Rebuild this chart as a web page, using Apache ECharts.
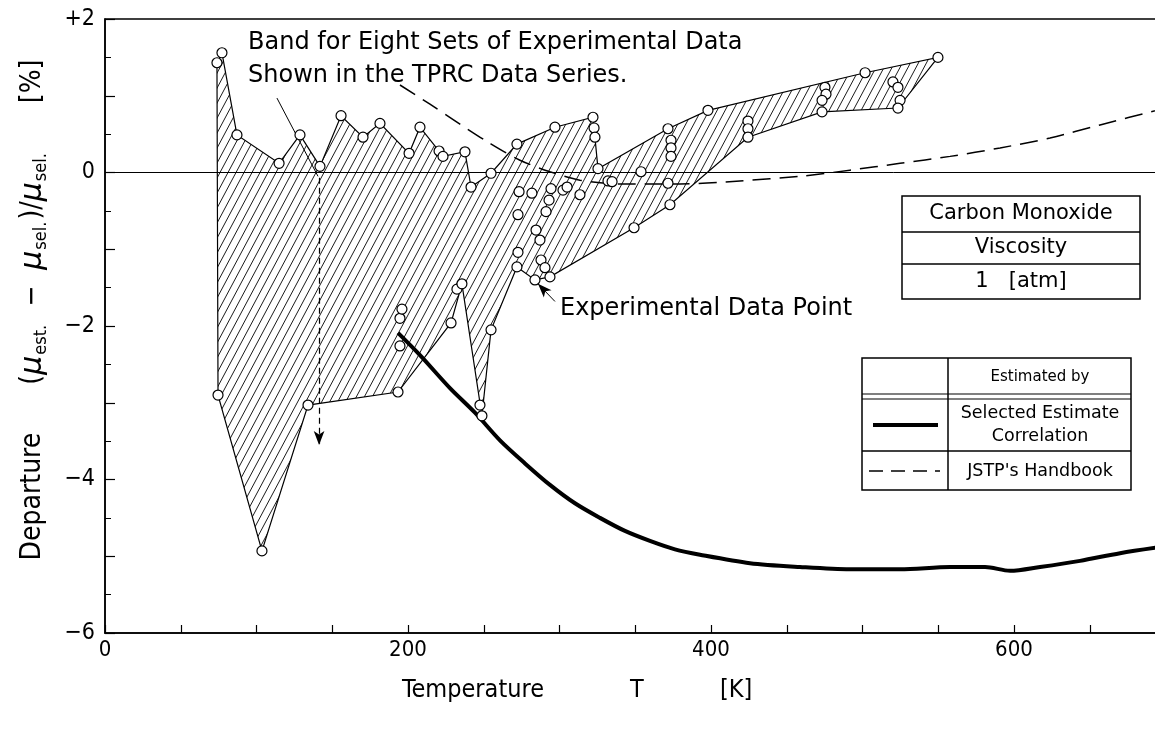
<!DOCTYPE html>
<html><head><meta charset="utf-8">
<script src="https://cdn.jsdelivr.net/npm/echarts@6/dist/echarts.min.js"></script>
<style>html,body{margin:0;padding:0;background:#fff}#c{width:1155px;height:733px}</style>
</head><body><div id="c"></div><script>
// ---- data ----
const xTickValues = [0, 200, 400, 600];
const xTickLabels = ['0', '200', '400', '600'];
const yTickValues = [2, 0, -2, -4, -6];
const yTickLabels = ['+2', '0', '\u22122', '\u22124', '\u22126'];

// band outline (clockwise)
const bandT = [74.6, 73.9, 77.2, 87.1, 114.9, 128.7, 141.9, 155.8, 170.3, 181.5, 200.7, 207.9, 220.5, 223.1, 237.6, 241.6, 254.8, 271.9, 297.0, 322.1, 325.4, 371.6, 398.0, 501.7, 549.8,
               523.4, 473.3, 424.4, 372.9, 349.2, 293.7, 283.8, 271.9, 254.8, 248.8, 235.6, 228.4, 193.4, 134.0, 103.6];
const bandY = [-2.90, 1.43, 1.56, 0.49, 0.12, 0.49, 0.08, 0.74, 0.46, 0.64, 0.25, 0.59, 0.28, 0.21, 0.27, -0.19, -0.01, 0.37, 0.59, 0.72, 0.05, 0.57, 0.81, 1.30, 1.50,
               0.84, 0.79, 0.46, -0.42, -0.72, -1.36, -1.40, -1.23, -2.05, -3.17, -1.45, -1.96, -2.86, -3.03, -4.93];

// experimental data points
const pointT = [77.2, 73.9, 87.1, 114.9, 128.7, 141.9, 155.8, 170.3, 181.5, 200.7, 207.9, 220.5, 223.1, 237.6, 241.6, 254.8, 271.9, 297.0, 322.1, 322.8, 323.4, 325.4, 332.0, 334.7, 353.8,
                371.6, 371.6, 373.6, 373.6, 373.6, 398.0, 424.4, 424.4, 424.4, 475.2, 475.9, 473.3, 473.3, 501.7, 520.1, 523.4, 524.8, 523.4, 549.8,
                74.6, 103.6, 134.0, 193.4, 194.7, 194.7, 196.0, 228.4, 232.3, 235.6, 247.5, 248.8, 254.8, 271.9, 283.8, 293.7, 349.2, 372.9,
                273.3, 281.8, 294.4, 302.3, 305.0, 313.5, 272.6, 272.6, 284.5, 287.1, 287.8, 290.4, 291.1, 293.1];
const pointY = [1.56, 1.43, 0.49, 0.12, 0.49, 0.08, 0.74, 0.46, 0.64, 0.25, 0.59, 0.28, 0.21, 0.27, -0.19, -0.01, 0.37, 0.59, 0.72, 0.58, 0.46, 0.05, -0.11, -0.12, 0.01,
                -0.14, 0.57, 0.42, 0.32, 0.21, 0.81, 0.67, 0.57, 0.46, 1.11, 1.02, 0.94, 0.79, 1.30, 1.18, 1.11, 0.94, 0.84, 1.50,
                -2.90, -4.93, -3.03, -2.86, -2.26, -1.90, -1.78, -1.96, -1.52, -1.45, -3.03, -3.17, -2.05, -1.23, -1.40, -1.36, -0.72, -0.42,
                -0.25, -0.27, -0.21, -0.23, -0.19, -0.29, -0.55, -1.04, -0.75, -0.88, -1.14, -1.24, -0.51, -0.36];

// selected estimate correlation
const selT = [193.4, 207.9, 227.7, 244.2, 260.7, 277.2, 293.7, 310.2, 326.7, 343.2, 359.7, 376.2, 392.7, 425.7, 458.7, 491.7, 524.8, 557.8, 580.9, 597.4, 617.2, 643.6, 670.0, 700.0];
const selY = [-2.09, -2.38, -2.81, -3.13, -3.49, -3.79, -4.07, -4.31, -4.50, -4.67, -4.80, -4.91, -4.98, -5.09, -5.14, -5.17, -5.17, -5.14, -5.14, -5.19, -5.14, -5.06, -4.96, -4.87];

// JSTP's handbook
const jstpT = [194.7, 214.5, 234.3, 254.1, 273.9, 293.7, 313.5, 339.9, 379.5, 419.1, 458.7, 491.7, 524.8, 557.8, 590.8, 623.8, 656.8, 700.0];
const jstpY = [1.14, 0.89, 0.63, 0.38, 0.16, 0.01, -0.10, -0.15, -0.15, -0.11, -0.05, 0.03, 0.12, 0.21, 0.32, 0.45, 0.62, 0.84];

// annotation leader lines [T1, y1, T2, y2]
const leaderBand = [113.5, 0.97, 140.6, -0.05];
const arrowBand = [141.3, -0.07, 141.3, -3.55];
const arrowPoint = [297.0, -1.68, 285.8, -1.45];

// ---- styling ----
const COND = "'DejaVu Sans Condensed', 'DejaVu Sans', sans-serif";
const SANS = "'DejaVu Sans', sans-serif";

const hc = document.createElement('canvas');
hc.width = 8; hc.height = 15;
(function () {
  const ctx = hc.getContext('2d');
  ctx.strokeStyle = '#000'; ctx.lineWidth = 0.9;
  for (const off of [-8, 0, 8]) {
    ctx.beginPath(); ctx.moveTo(-8 + off, 30); ctx.lineTo(16 + off, -15); ctx.stroke();
  }
})();

function fmt(values, labels) {
  return v => { const i = values.findIndex(t => Math.abs(t - v) < 1e-9); return i >= 0 ? labels[i] : ''; };
}
const zip = (a, b) => a.map((t, i) => [t, b[i]]);

const chart = echarts.init(document.getElementById('c'));
const black = '#000';
chart.setOption({
  animation: false,
  backgroundColor: '#fff',
  grid: { left: 105, top: 19, right: -10.5, bottom: 100, show: true, borderColor: black, borderWidth: 1.5, backgroundColor: 'transparent', outerBoundsMode: 'none', containLabel: false },
  xAxis: {
    type: 'value', min: 0, max: 700, interval: 50,
    axisLine: { show: true, onZero: false, lineStyle: { color: black, width: 1.5 } },
    axisTick: { show: true, inside: true, length: 8, lineStyle: { color: black, width: 1.2 } },
    axisLabel: { formatter: fmt(xTickValues, xTickLabels), color: black, fontSize: 22, fontFamily: COND, margin: 6, showMaxLabel: false },
    splitLine: { show: false }
  },
  yAxis: {
    type: 'value', min: -6, max: 2, interval: 1,
    axisLine: { show: true, onZero: false, lineStyle: { color: black, width: 1.5 } },
    axisTick: { show: true, inside: true, length: 10, lineStyle: { color: black, width: 1.2 } },
    minorTick: { show: true, splitNumber: 2, length: 6, lineStyle: { color: black, width: 1 } },
    axisLabel: { formatter: fmt(yTickValues, yTickLabels), color: black, fontSize: 23, fontFamily: COND, margin: 10 },
    splitLine: { show: false }, minorSplitLine: { show: false },
    name: '{a|Departure      (}{m|\u03bc}{s|est.}{a|  \u2212  }{m|\u03bc}{s|sel.}{a|)/}{m|\u03bc}{s|sel.}{a|      [%]}',
    nameLocation: 'middle', nameRotate: 90, nameGap: 55,
    nameTextStyle: {
      padding: [0, 0, 0, 32],
      rich: {
        a: { fontSize: 28, fontFamily: COND, color: black, lineHeight: 34 },
        m: { fontSize: 30, fontFamily: SANS, fontStyle: 'italic', color: black, lineHeight: 34 },
        s: { fontSize: 18, fontFamily: COND, color: black, lineHeight: 16, verticalAlign: 'bottom', padding: [0, 2, 0, 1] }
      }
    }
  },
  series: [
    {
      type: 'custom', coordinateSystem: 'cartesian2d', silent: true, z: 1,
      data: [[bandT[0], bandY[0]]],
      renderItem: (params, api) => ({
        type: 'polygon',
        shape: { points: bandT.map((t, i) => api.coord([t, bandY[i]])) },
        style: { fill: { image: hc, repeat: 'repeat' }, stroke: black, lineWidth: 1.2 }
      })
    },
    {
      type: 'line', data: zip(jstpT, jstpY), showSymbol: false, symbol: 'none', smooth: 0.3, z: 3,
      lineStyle: { color: black, width: 1.5, type: [18, 9] }
    },
    {
      type: 'line', data: zip(selT, selY), showSymbol: false, symbol: 'none', smooth: 0.3, z: 3,
      lineStyle: { color: black, width: 4 }
    },
    {
      type: 'scatter', data: zip(pointT, pointY), symbol: 'circle', symbolSize: 10, z: 5,
      itemStyle: { color: '#fff', borderColor: black, borderWidth: 1.2, opacity: 1 },
      markLine: {
        silent: true, symbol: ['none', 'none'], symbolSize: [8, 14], animation: false,
        label: { show: false }, lineStyle: { color: black, width: 1, type: 'solid' },
        data: [
          { yAxis: 0 },
          [{ coord: [leaderBand[0], leaderBand[1]] }, { coord: [leaderBand[2], leaderBand[3]] }],
          [{ coord: [arrowBand[0], arrowBand[1]], lineStyle: { type: [6, 4], width: 1.2 } }, { coord: [arrowBand[2], arrowBand[3]], symbol: 'arrow' }],
          [{ coord: [arrowPoint[0], arrowPoint[1]] }, { coord: [arrowPoint[2], arrowPoint[3]], symbol: 'arrow' }]
        ]
      }
    }
  ],
  graphic: [
    // annotations
    { type: 'text', x: 248, y: 43, z: 10, style: { text: 'Band for Eight Sets of Experimental Data', fontSize: 24, fontFamily: SANS, fill: black, align: 'left', verticalAlign: 'middle' } },
    { type: 'text', x: 248, y: 76, z: 10, style: { text: 'Shown in the TPRC Data Series.', fontSize: 24, fontFamily: SANS, fill: black, align: 'left', verticalAlign: 'middle' } },
    { type: 'text', x: 560, y: 309, z: 10, style: { text: 'Experimental Data Point', fontSize: 24, fontFamily: SANS, fill: black, align: 'left', verticalAlign: 'middle' } },
    // x axis title
    { type: 'text', x: 402, y: 690, style: { text: 'Temperature', fontSize: 25, fontFamily: COND, fill: black, align: 'left', verticalAlign: 'middle' } },
    { type: 'text', x: 630, y: 690, style: { text: 'T', fontSize: 25, fontFamily: COND, fill: black, align: 'left', verticalAlign: 'middle' } },
    { type: 'text', x: 720, y: 690, style: { text: '[K]', fontSize: 25, fontFamily: COND, fill: black, align: 'left', verticalAlign: 'middle' } },
    // box 1
    { type: 'rect', z: 20, shape: { x: 902, y: 196, width: 238, height: 103 }, style: { fill: '#fff', stroke: black, lineWidth: 1.5 } },
    { type: 'line', z: 21, shape: { x1: 902, y1: 232, x2: 1140, y2: 232 }, style: { stroke: black, lineWidth: 1.5 } },
    { type: 'line', z: 21, shape: { x1: 902, y1: 264, x2: 1140, y2: 264 }, style: { stroke: black, lineWidth: 1.5 } },
    { type: 'text', z: 22, x: 1021, y: 214, style: { text: 'Carbon Monoxide', fontSize: 21, fontFamily: SANS, fill: black, align: 'center', verticalAlign: 'middle' } },
    { type: 'text', z: 22, x: 1021, y: 248, style: { text: 'Viscosity', fontSize: 21, fontFamily: SANS, fill: black, align: 'center', verticalAlign: 'middle' } },
    { type: 'text', z: 22, x: 1021, y: 282, style: { text: '1   [atm]', fontSize: 21, fontFamily: SANS, fill: black, align: 'center', verticalAlign: 'middle' } },
    // box 2
    { type: 'rect', z: 20, shape: { x: 862, y: 358, width: 269, height: 132 }, style: { fill: '#fff', stroke: black, lineWidth: 1.5 } },
    { type: 'line', z: 21, shape: { x1: 948, y1: 358, x2: 948, y2: 490 }, style: { stroke: black, lineWidth: 1.5 } },
    { type: 'line', z: 21, shape: { x1: 862, y1: 394, x2: 1131, y2: 394 }, style: { stroke: black, lineWidth: 1.2 } },
    { type: 'line', z: 21, shape: { x1: 862, y1: 399, x2: 1131, y2: 399 }, style: { stroke: black, lineWidth: 1.2 } },
    { type: 'line', z: 21, shape: { x1: 862, y1: 451, x2: 1131, y2: 451 }, style: { stroke: black, lineWidth: 1.5 } },
    { type: 'line', z: 21, shape: { x1: 873, y1: 425, x2: 938, y2: 425 }, style: { stroke: black, lineWidth: 4 } },
    { type: 'line', z: 21, shape: { x1: 869, y1: 471, x2: 940, y2: 471 }, style: { stroke: black, lineWidth: 1.5, lineDash: [14, 8] } },
    { type: 'text', z: 22, x: 1040, y: 377, style: { text: 'Estimated by', fontSize: 15, fontFamily: SANS, fill: black, align: 'center', verticalAlign: 'middle' } },
    { type: 'text', z: 22, x: 1040, y: 413, style: { text: 'Selected Estimate', fontSize: 17.5, fontFamily: SANS, fill: black, align: 'center', verticalAlign: 'middle' } },
    { type: 'text', z: 22, x: 1040, y: 436, style: { text: 'Correlation', fontSize: 17.5, fontFamily: SANS, fill: black, align: 'center', verticalAlign: 'middle' } },
    { type: 'text', z: 22, x: 1040, y: 471, style: { text: "JSTP's Handbook", fontSize: 17.5, fontFamily: SANS, fill: black, align: 'center', verticalAlign: 'middle' } }
  ]
});
</script></body></html>
